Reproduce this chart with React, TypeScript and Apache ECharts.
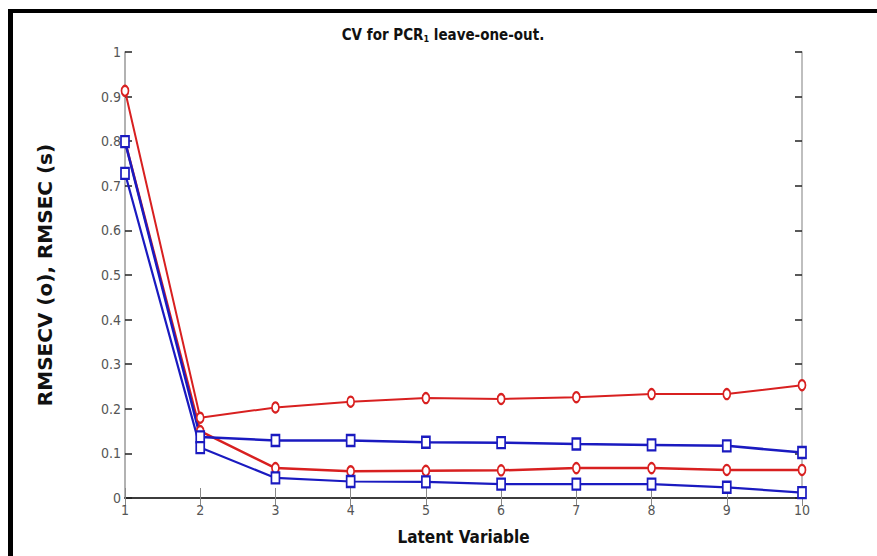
import React, { useEffect, useRef } from "react";
import * as echarts from "echarts";

const latentVariables = [1, 2, 3, 4, 5, 6, 7, 8, 9, 10];
const rmsecvA = [0.913, 0.18, 0.203, 0.216, 0.224, 0.222, 0.226, 0.233, 0.233, 0.253];
const rmsecA = [0.799, 0.137, 0.129, 0.129, 0.125, 0.124, 0.121, 0.119, 0.117, 0.102];
const rmsecvB = [0.8, 0.15, 0.067, 0.06, 0.061, 0.062, 0.067, 0.067, 0.063, 0.063];
const rmsecB = [0.728, 0.113, 0.045, 0.037, 0.036, 0.031, 0.031, 0.031, 0.024, 0.012];

const RED = "#d82020";
const BLUE = "#1a1ac0";
const NARROW = '"Liberation Sans Narrow", "DejaVu Sans Condensed", "Roboto Condensed", sans-serif';

function pairs(vals: number[]) {
  return vals.map((v, i) => [latentVariables[i], v]);
}

export default function App() {
  const ref = useRef<HTMLDivElement>(null);
  useEffect(() => {
    if (!ref.current) return;
    const chart = echarts.init(ref.current, null, { renderer: "svg" });
    const tickLabel = { fontFamily: NARROW, fontSize: 14, color: "#555" };
    const lineSeries = (name: string, data: number[], color: string, symbol: string, width: number) => ({
      name,
      type: "line",
      data: pairs(data),
      symbol,
      symbolSize: symbol === "emptyCircle" ? [7, 10] : [8, 11],
      showSymbol: true,
      lineStyle: { color, width },
      itemStyle: { color, borderColor: color, borderWidth: 1.5 },
      z: 3,
    });
    chart.setOption({
      animation: false,
      backgroundColor: "#ffffff",
      title: {
        text: "CV for PCR{sub|1} leave-one-out.",
        left: 438,
        top: 21,
        textAlign: "center",
        textStyle: {
          fontFamily: NARROW,
          fontSize: 15,
          fontWeight: "bold",
          color: "#111",
          rich: {
            sub: { fontFamily: NARROW, fontSize: 9, fontWeight: "bold", color: "#111", verticalAlign: "bottom", padding: [8, 0, 0, 0] },
          },
        },
      },
      grid: { left: 125, top: 52, right: 75, bottom: 58, containLabel: false },
      xAxis: [
        {
          type: "value",
          min: 1,
          max: 10,
          interval: 1,
          position: "bottom",
          name: "Latent Variable",
          nameLocation: "middle",
          nameGap: 30,
          nameTextStyle: { fontFamily: NARROW, fontSize: 17, fontWeight: "bold", color: "#111" },
          axisLine: { show: true, lineStyle: { color: "#222", width: 1.5 } },
          axisTick: { show: true, inside: true, length: 10, lineStyle: { color: "#888", width: 1 } },
          axisLabel: { ...tickLabel, margin: 5 },
          splitLine: { show: false },
        },
        {
          type: "value",
          min: 1,
          max: 10,
          interval: 1,
          position: "top",
          axisLine: { show: true, lineStyle: { color: "#333", width: 1.5 } },
          axisTick: { show: true, inside: true, length: 8, lineStyle: { color: "#888", width: 1 } },
          axisLabel: { show: false },
          splitLine: { show: false },
        },
      ],
      yAxis: [
        {
          type: "value",
          min: 0,
          max: 1,
          interval: 0.1,
          position: "left",
          name: "RMSECV (o), RMSEC (s)",
          nameLocation: "middle",
          nameGap: 70,
          nameTextStyle: { fontFamily: "DejaVu Sans", fontSize: 20, fontWeight: "bold", color: "#111" },
          axisLine: { show: true, lineStyle: { color: "#999", width: 1.5 } },
          axisTick: { show: true, inside: true, length: 7, lineStyle: { color: "#222", width: 1.5 } },
          axisLabel: { ...tickLabel, margin: 4, formatter: (v: number) => (Math.round(v * 10) / 10).toString() },
          splitLine: { show: false },
        },
        {
          type: "value",
          min: 0,
          max: 1,
          interval: 0.1,
          position: "right",
          axisLine: { show: true, lineStyle: { color: "#aaa", width: 1.5 } },
          axisTick: { show: true, inside: true, length: 7, lineStyle: { color: "#222", width: 1.5 } },
          axisLabel: { show: false },
          splitLine: { show: false },
        },
      ],
      graphic: [
        { type: "rect", left: 8, top: 9, shape: { width: 5, height: 547 }, style: { fill: "#000" } },
        { type: "rect", left: 8, top: 9, shape: { width: 869, height: 4 }, style: { fill: "#000" } },
      ],
      series: [
        lineSeries("RMSECV A", rmsecvA, RED, "emptyCircle", 2),
        lineSeries("RMSECV B", rmsecvB, RED, "emptyCircle", 2.5),
        lineSeries("RMSEC A", rmsecA, BLUE, "emptyRect", 2.5),
        lineSeries("RMSEC B", rmsecB, BLUE, "emptyRect", 2.2),
      ],
    });
    return () => chart.dispose();
  }, []);
  return (
    <div
      ref={ref}
      style={{ position: "fixed", left: 0, top: 0, width: 877, height: 556, background: "#fff" }}
    />
  );
}
